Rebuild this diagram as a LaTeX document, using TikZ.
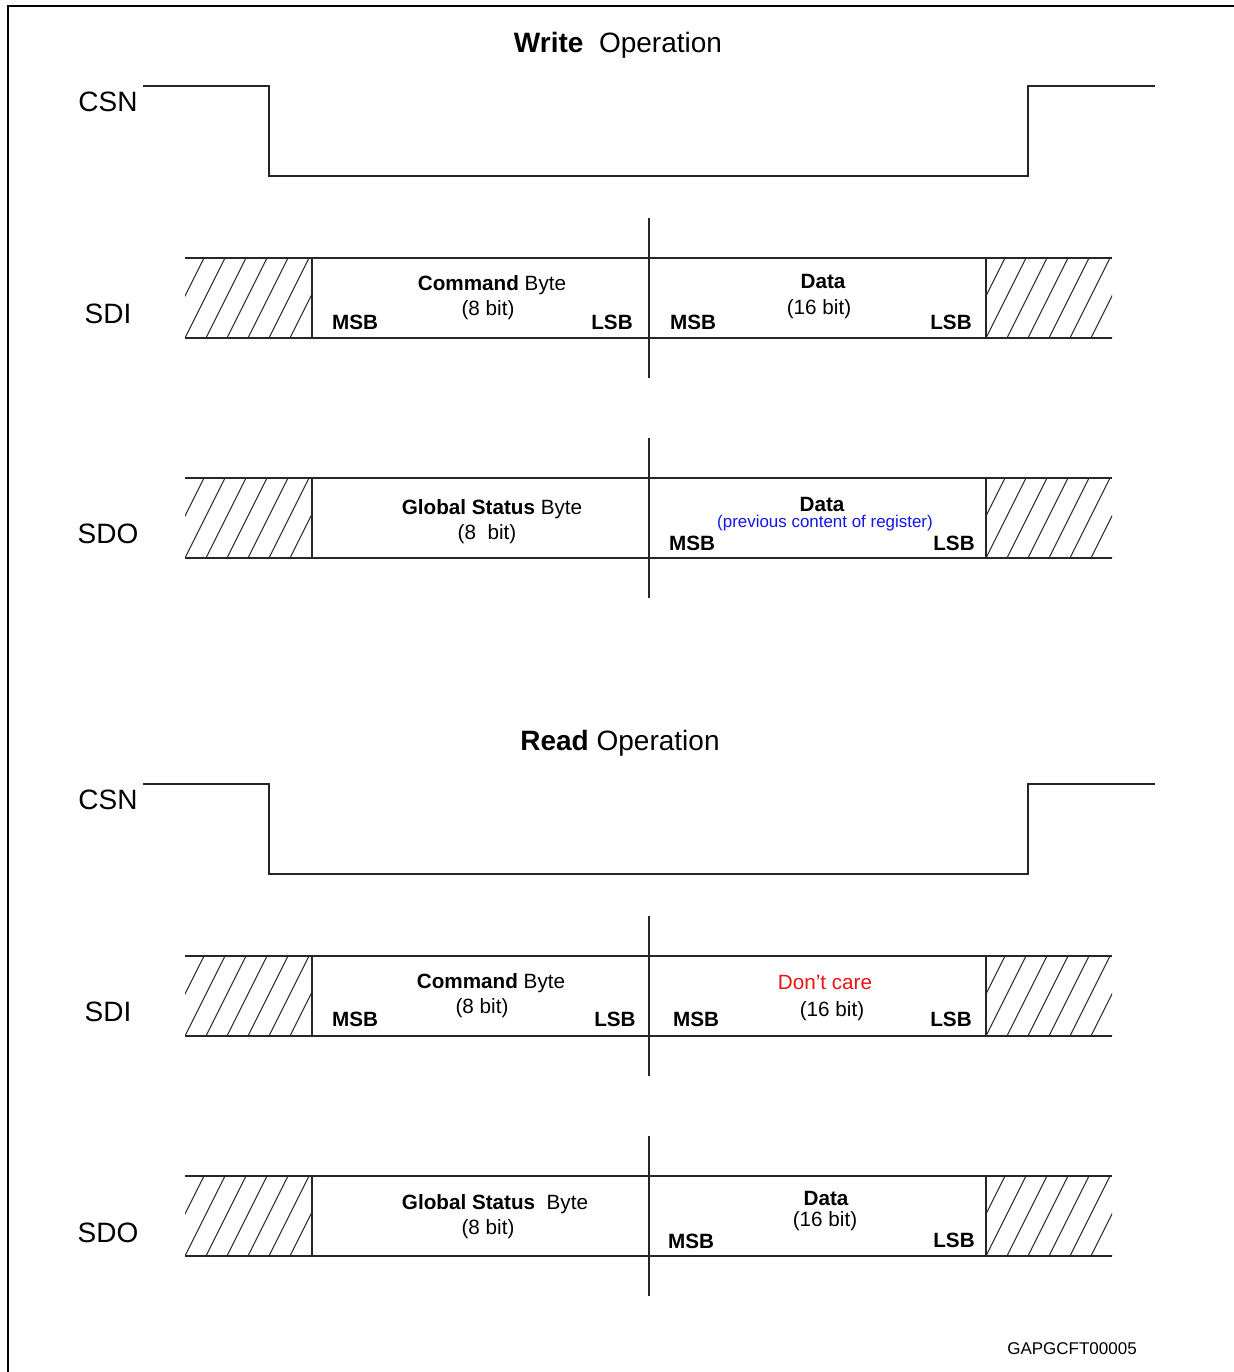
\documentclass[tikz,border=0pt]{standalone}
\usepackage{fontspec}
\setmainfont{Liberation Sans}
\definecolor{regblue}{RGB}{20,20,235}
\definecolor{carered}{RGB}{235,20,20}
\tikzset{
  sig/.style={draw=black!85, line width=0.8pt},
  hatchline/.style={draw=black!85, line width=0.7pt},
  big/.style={anchor=base, inner sep=0pt, font=\fontsize{21}{25}\selectfont},
  txt/.style={anchor=base, inner sep=0pt, font=\fontsize{15.5}{18}\selectfont},
  btxt/.style={txt, font=\fontsize{15.5}{18}\selectfont\bfseries},
  small/.style={anchor=base, inner sep=0pt, font=\fontsize{12.7}{15}\selectfont},
}
\newcommand{\hatchzone}[3]{% x-left, y-top, y-bottom
  \begin{scope}
    \clip (#1,#2) rectangle (#1+126,#3);
    \foreach \k in {-2,...,6} \draw[hatchline] (#1+21*\k,#3) -- ++(40,-80);
  \end{scope}}
\newcommand{\busrow}[1]{% y-top
  \hatchzone{185}{#1}{#1+80}
  \hatchzone{986}{#1}{#1+80}
  \draw[sig] (185,#1) -- (1112,#1);
  \draw[sig] (185,#1+80) -- (1112,#1+80);
  \draw[sig] (312,#1) -- (312,#1+80);
  \draw[sig] (986,#1) -- (986,#1+80);
  \draw[sig] (649,#1-40) -- (649,#1+120);}
\newcommand{\csnwave}[1]{% y-high
  \draw[sig] (143,#1) -- (269,#1) -- (269,#1+90) -- (1028,#1+90) -- (1028,#1) -- (1155,#1);}
\begin{document}
\begin{tikzpicture}[x=0.75pt,y=-0.75pt]
\useasboundingbox (0,0) rectangle (1234,1372);
\fill[white] (0,0) rectangle (1234,1372);
% frame
\draw[line width=1.6pt] (1234,6) -- (8,6) -- (8,1372);

% ================= WRITE =================
\node[big] (wtitle) at (618,52) {\textbf{Write}\ \ Operation};
\node[big] (wcsn) at (108,111) {CSN};
\csnwave{86}
\node[big] (wsdi) at (108,323) {SDI};
\busrow{258}
\node[txt] (wcmd) at (492,290) {\textbf{Command} Byte};
\node[txt] (wcmdb) at (488,315) {(8 bit)};
\node[btxt] (wmsb1) at (355,329) {MSB};
\node[btxt] (wlsb1) at (612,329) {LSB};
\node[btxt] (wmsb2) at (693,329) {MSB};
\node[btxt] (wdata) at (823,288) {Data};
\node[txt] (wdatab) at (819,314) {(16 bit)};
\node[btxt] (wlsb2) at (951,329) {LSB};

\node[big] (wsdo) at (108,543) {SDO};
\busrow{478}
\node[txt] (wgs) at (492,514) {\textbf{Global Status} Byte};
\node[txt] (wgsb) at (487,539) {(8\ \ bit)};
\node[btxt] (wdo) at (822,511) {Data};
\node[small, text=regblue] (wprev) at (825,527) {(previous content of register)};
\node[btxt] (wmsb3) at (692,550) {MSB};
\node[btxt] (wlsb3) at (954,550) {LSB};

% ================= READ =================
\node[big] (rtitle) at (620,750) {\textbf{Read}\ Operation};
\node[big] (rcsn) at (108,809) {CSN};
\csnwave{784}
\node[big] (rsdi) at (108,1021) {SDI};
\busrow{956}
\node[txt] (rcmd) at (491,988) {\textbf{Command} Byte};
\node[txt] (rcmdb) at (482,1013) {(8 bit)};
\node[btxt] (rmsb1) at (355,1026) {MSB};
\node[btxt] (rlsb1) at (615,1026) {LSB};
\node[btxt] (rmsb2) at (696,1026) {MSB};
\node[txt, text=carered] (rdc) at (825,989) {Don’t care};
\node[txt] (rdcb) at (832,1016) {(16 bit)};
\node[btxt] (rlsb2) at (951,1026) {LSB};

\node[big] (rsdo) at (108,1242) {SDO};
\busrow{1176}
\node[txt] (rgs) at (495,1209) {\textbf{Global Status}\ \ Byte};
\node[txt] (rgsb) at (488,1234) {(8 bit)};
\node[btxt] (rdo) at (826,1205) {Data};
\node[txt] (rdob) at (825,1226) {(16 bit)};
\node[btxt] (rmsb3) at (691,1248) {MSB};
\node[btxt] (rlsb3) at (954,1247) {LSB};

\node[anchor=base, inner sep=0pt, font=\fontsize{12.75}{15}\selectfont] (code) at (1072,1354) {GAPGCFT00005};
\end{tikzpicture}
\end{document}
